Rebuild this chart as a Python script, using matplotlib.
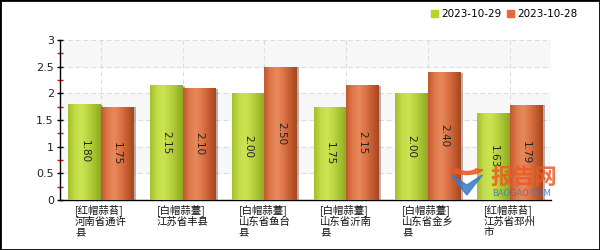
import numpy as np
import matplotlib
matplotlib.use("Agg")
import matplotlib.pyplot as plt
import matplotlib.patheffects as pe
from matplotlib.patches import Rectangle, Wedge, Polygon
from matplotlib.colors import to_rgb

plt.rcParams['font.family'] = ['Noto Sans CJK SC', 'DejaVu Sans']

categories = ["[红帽蒜苔]\n河南省通许\n县", "[白帽蒜薹]\n江苏省丰县", "[白帽蒜薹]\n山东省鱼台\n县",
              "[白帽蒜薹]\n山东省沂南\n县", "[白帽蒜薹]\n山东省金乡\n县", "[红帽蒜苔]\n江苏省邳州\n市"]
series_names = ["2023-10-29", "2023-10-28"]
values_1029 = [1.80, 2.15, 2.00, 1.75, 2.00, 1.63]
values_1028 = [1.75, 2.10, 2.50, 2.15, 2.40, 1.79]
y_ticks = [0, 0.5, 1, 1.5, 2, 2.5, 3]

green_grad = ["#a4c02c", "#c2dc48", "#cde452", "#bcd642", "#a6c230", "#8eaa22"]
orange_grad = ["#c25a30", "#e07a4c", "#e88a5c", "#dc7446", "#c45c30", "#a8461e"]
legend_colors = ["#b6d42a", "#e8683a"]


def gradBar(ax, bar, cols):
  x0, y0 = bar.get_x(), bar.get_y()
  w, h = bar.get_width(), bar.get_height()
  rgb = np.array([to_rgb(c) for c in cols])
  n = 40
  pos = np.linspace(0, 1, len(cols))
  t = np.linspace(0, 1, n)
  img = np.stack([np.interp(t, pos, rgb[:, k]) for k in range(3)], axis=-1)[None, :, :]
  im = ax.imshow(img, extent=(x0, x0 + w, y0, y0 + h), aspect='auto', zorder=bar.get_zorder() + 0.1,
                 interpolation='bilinear')
  im.set_clip_path(bar)


fig = plt.figure(figsize=(6, 2.5), dpi=100)
ax = fig.add_axes([0.1, 0.2, 0.818, 0.64])

x = np.arange(len(categories))
w = 0.4
shadow = [pe.SimplePatchShadow(offset=(1.5, -0.5), alpha=0.35), pe.Normal()]
bars1 = ax.bar(x - w / 2, values_1029, w, color=legend_colors[0], zorder=3, path_effects=shadow)
bars2 = ax.bar(x + w / 2, values_1028, w, color=legend_colors[1], zorder=3, path_effects=shadow)
for b in bars1:
  gradBar(ax, b, green_grad)
for b in bars2:
  gradBar(ax, b, orange_grad)

for bars in (bars1, bars2):
  ax.bar_label(bars, labels=["%.2f" % b.get_height() for b in bars], label_type='center',
               rotation=270, fontsize=7.5, color='#222222', family='DejaVu Sans', zorder=6)

# alternating bands
for lo in y_ticks[1:-1:2]:
  ax.axhspan(lo, lo + 0.5, color='#f7f7f7', zorder=0)

ax.set_xlim(-0.5, len(categories) - 0.5)
ax.set_ylim(0, 3)
ax.set_yticks(y_ticks)
ax.set_yticklabels(["0", "0.5", "1", "1.5", "2", "2.5", "3"], family='DejaVu Sans', fontsize=8, color='#222222')
ax.set_yticks(np.arange(0.25, 3, 0.5), minor=True)
ax.set_xticks(x)
ax.set_xticklabels(categories, fontsize=7.5, multialignment='left', linespacing=1.05, color='#111111')
ax.tick_params(axis='y', which='major', direction='inout', length=5, width=1, color='black', pad=2)
ax.tick_params(axis='y', which='minor', direction='inout', length=4, width=1, color='red')
ax.tick_params(axis='x', length=0, pad=3)

ax.set_axisbelow(True)
ax.grid(True, color='#dcdcdc', linestyle=(0, (4, 3)), linewidth=0.8, zorder=1)
ax.spines['top'].set_visible(False)
ax.spines['right'].set_visible(False)
ax.spines['left'].set_linewidth(1)
ax.spines['bottom'].set_linewidth(1)

handles = [Rectangle((0, 0), 1, 1, color=c) for c in legend_colors]
fig.legend(handles, series_names, loc='upper right', bbox_to_anchor=(0.978, 1.0), ncol=2, frameon=False,
           prop={'family': 'DejaVu Sans', 'size': 7.5}, handlelength=0.7, handleheight=0.7,
           handletextpad=0.3, columnspacing=0.5)

# watermark
fig.text(0.818, 0.26, "报告网", fontsize=16, color='#ee5a24', weight='bold', alpha=0.85)
fig.text(0.82, 0.215, "BAOGAO.COM", fontsize=6, color='#3a7cc4', family='DejaVu Sans', alpha=0.9)
fig.patches.append(Wedge((0.778, 0.33), 0.028, 200, 340, width=0.012, transform=fig.transFigure,
                         color='#ee5a24', alpha=0.85))
fig.patches.append(Polygon([(0.752, 0.30), (0.778, 0.22), (0.804, 0.30), (0.778, 0.26)],
                           transform=fig.transFigure, color='#3a7cc4', alpha=0.85))

fig.patches.append(Rectangle((0, 0), 1, 1, transform=fig.transFigure, fill=False,
                             edgecolor='black', linewidth=2))

plt.savefig("out.png", dpi=100)
